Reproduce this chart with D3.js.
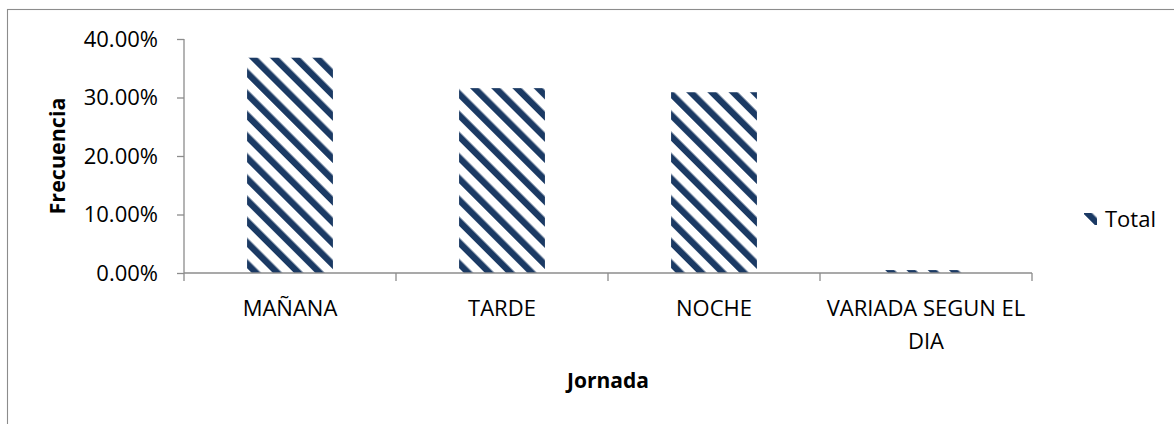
<!DOCTYPE html>
<html>
<head>
<meta charset="utf-8">
<script src="https://cdn.jsdelivr.net/npm/d3@7"></script>
<style>
  html, body { margin: 0; padding: 0; background: #fff; }
  svg { display: block; font-family: "Open Sans", "Noto Sans", sans-serif; }
</style>
</head>
<body>
<svg id="chart" width="1174" height="424"></svg>
<script>
// Jornada de trabajo: frecuencia relativa por turno
const categories = ["MAÑANA", "TARDE", "NOCHE", "VARIADA SEGUN EL DIA"];
const totals = [0.368, 0.316, 0.309, 0.005];
const yTicks = [0, 0.1, 0.2, 0.3, 0.4];
const seriesName = "Total";

const svg = d3.select("#chart");
const W = 1174, H = 424;
const navy = "#1b3a64";
const grey = "#8c8c8c";

const plot = { left: 184, right: 1032, top: 39, bottom: 273 };

// Diagonal hatch used for the bars and legend key
const defs = svg.append("defs");
const pat = defs.append("pattern")
  .attr("id", "hatch")
  .attr("patternUnits", "userSpaceOnUse")
  .attr("width", 15)
  .attr("height", 15)
  .attr("patternTransform", "rotate(-45)");
pat.append("rect").attr("width", 15).attr("height", 15).attr("fill", "#fff");
pat.append("rect").attr("x", 0).attr("y", 0).attr("width", 6.5).attr("height", 15).attr("fill", navy);

// Chart area border
svg.append("rect")
  .attr("x", 7.5).attr("y", 9.5)
  .attr("width", W).attr("height", H)
  .attr("fill", "none")
  .attr("stroke", grey)
  .attr("stroke-width", 1.1);

const x = d3.scaleBand()
  .domain(categories)
  .range([plot.left, plot.right])
  .paddingInner(0).paddingOuter(0);

const y = d3.scaleLinear()
  .domain([0, 0.4])
  .range([plot.bottom, plot.top]);

const barW = x.bandwidth() * 0.405;

// Bars
svg.append("g").selectAll("rect")
  .data(categories.map((c, i) => ({ c, v: totals[i] })))
  .join("rect")
  .attr("x", d => x(d.c) + x.bandwidth() / 2 - barW / 2)
  .attr("y", d => y(d.v))
  .attr("width", barW)
  .attr("height", d => y(0) - y(d.v))
  .attr("fill", "url(#hatch)");

// Y axis
const yAxis = d3.axisLeft(y)
  .tickValues(yTicks)
  .tickSize(7)
  .tickPadding(19)
  .tickFormat(d => (d * 100).toFixed(2) + "%");
const gy = svg.append("g")
  .attr("transform", `translate(${plot.left},0)`)
  .call(yAxis);
gy.select(".domain").attr("stroke", grey).attr("stroke-width", 1.3)
  .attr("d", `M0,${plot.top}V${plot.bottom}`);
gy.selectAll(".tick line").attr("stroke", grey).attr("stroke-width", 1.3);
gy.selectAll(".tick text")
  .attr("font-size", 22)
  .attr("fill", "#000")
  .attr("font-family", "'Open Sans', sans-serif");

// X axis: ticks sit on band boundaries
const gx = svg.append("g").attr("transform", `translate(0,${plot.bottom})`);
gx.append("path")
  .attr("d", `M${plot.left},0H${plot.right}`)
  .attr("stroke", grey).attr("stroke-width", 1.3).attr("fill", "none");
const bounds = categories.map(c => x(c)).concat([plot.right]);
gx.selectAll("line.tb")
  .data(bounds)
  .join("line")
  .attr("class", "tb")
  .attr("x1", d => d).attr("x2", d => d)
  .attr("y1", 0).attr("y2", 8)
  .attr("stroke", grey).attr("stroke-width", 1.3);

// Category labels, wrapped onto two lines where needed
const labelLines = {
  "MAÑANA": ["MAÑANA"],
  "TARDE": ["TARDE"],
  "NOCHE": ["NOCHE"],
  "VARIADA SEGUN EL DIA": ["VARIADA SEGUN EL", "DIA"]
};
categories.forEach(c => {
  const t = svg.append("text")
    .attr("x", x(c) + x.bandwidth() / 2)
    .attr("y", 316)
    .attr("text-anchor", "middle")
    .attr("font-size", 22)
    .attr("fill", "#000");
  labelLines[c].forEach((ln, i) => {
    t.append("tspan")
      .attr("x", x(c) + x.bandwidth() / 2)
      .attr("dy", i === 0 ? 0 : 33)
      .text(ln);
  });
});

// Axis titles
svg.append("text")
  .attr("x", (plot.left + plot.right) / 2)
  .attr("y", 388)
  .attr("text-anchor", "middle")
  .attr("font-size", 21)
  .attr("font-weight", "bold")
  .attr("fill", "#000")
  .text("Jornada");

svg.append("text")
  .attr("transform", `translate(65,156) rotate(-90)`)
  .attr("text-anchor", "middle")
  .attr("font-size", 21.5)
  .attr("font-weight", "bold")
  .attr("fill", "#000")
  .text("Frecuencia");

// Legend
const lg = svg.append("g");
lg.append("rect")
  .attr("x", 1084).attr("y", 213)
  .attr("width", 13).attr("height", 12)
  .attr("fill", "url(#hatch)");
lg.append("text")
  .attr("x", 1105).attr("y", 227)
  .attr("font-size", 22)
  .attr("fill", "#000")
  .text(seriesName);
</script>
</body>
</html>
